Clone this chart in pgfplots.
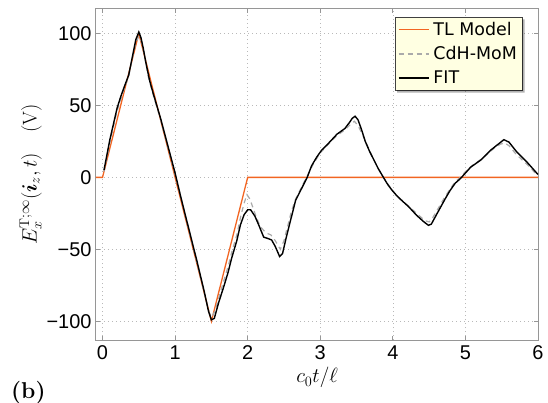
\documentclass[border=0pt]{standalone}
\usepackage{pgfplots}
\pgfplotsset{compat=1.18}
\usepackage{amsmath}
\usepackage{fontspec}
\newfontfamily\tickfont{Liberation Sans}
\newfontfamily\legfont{DejaVu Sans}
\definecolor{tlorange}{RGB}{242,101,34}
\definecolor{momgray}{RGB}{170,170,170}
\definecolor{framegray}{RGB}{150,150,150}
\definecolor{legfill}{RGB}{255,255,226}
\begin{document}
\begin{tikzpicture}
\path[use as bounding box] (-96bp,-63bp) rectangle (452bp,340bp);
\begin{axis}[
  at={(0,0)}, anchor=south west,
  scale only axis, width=442bp, height=331bp,
  xmin=-0.09, xmax=6, ymin=-113, ymax=117,
  xtick={0,1,2,3,4,5,6}, xticklabels={0,1,2,3,4,5,6},
  ytick={-100,-50,0,50,100}, yticklabels={−100,−50,0,50,100},
  tick align=inside, major tick length=4bp,
  tick style={framegray, line width=0.8bp},
  axis line style={framegray, line width=1bp},
  grid=major,
  major grid style={gray!55, line width=0.6bp, dash pattern=on 1bp off 3bp},
  ticklabel style={font=\tickfont\fontsize{20}{22}\selectfont},
  xticklabel style={yshift=-2bp},
  yticklabel style={xshift=-1bp},
  xlabel={$c_0t/\ell$},
  ylabel={$E_x^{\mathrm{T};\infty}(\boldsymbol{i}_z,t)\quad(\mathrm{V})$},
  label style={font=\fontsize{20}{22}\selectfont},
  xlabel style={yshift=-1bp},
  ylabel style={yshift=-2bp},
  legend cell align=left,
  legend style={at={(rel axis cs:1,1)}, anchor=north east, xshift=-16bp, yshift=-8bp,
    name=leg, draw=black!75, fill=legfill,
    font=\legfont\fontsize{17.5}{21}\selectfont,
    inner xsep=3bp, inner ysep=3bp, row sep=5.5bp, column sep=2bp},
  legend image code/.code={\draw[#1, line width=1.7bp] (0bp,0bp) -- (30bp,0bp);},
]
\addplot[color=tlorange, line width=1.3bp] coordinates {(-0.09,0) (0,0) (0.5,100) (1.5,-100) (2,0) (6,0)};
\addlegendentry{TL Model}
\addplot[color=momgray, line width=1.2bp, dash pattern=on 5bp off 4bp] coordinates {
(0.02,4) (0.1,24) (0.2,46) (0.3,62) (0.36,70) (0.42,85) (0.46,94) (0.5,98) (0.54,94) (0.58,84) (0.63,70) (0.7,57) (0.8,40) (0.9,21) (1.0,2) (1.1,-18) (1.2,-39) (1.3,-59) (1.4,-80) (1.47,-94) (1.5,-97) (1.55,-93) (1.6,-84) (1.67,-72) (1.73,-62) (1.78,-52) (1.85,-40) (1.9,-28) (1.95,-18) (1.99,-12) (2.03,-15) (2.1,-25) (2.17,-34) (2.25,-38.5) (2.32,-40) (2.38,-44) (2.45,-50) (2.5,-44) (2.55,-34) (2.6,-24) (2.66,-15) (2.72,-9) (2.78,-3) (2.84,3) (2.9,9) (3.0,17) (3.11,23) (3.23,29) (3.34,33) (3.42,37) (3.47,39) (3.52,36) (3.58,30) (3.65,22) (3.74,12) (3.8,6) (3.87,0) (3.95,-6) (4.05,-12.5) (4.15,-17) (4.25,-21.5) (4.35,-26) (4.44,-30) (4.5,-31) (4.55,-28) (4.62,-22) (4.7,-15) (4.79,-8) (4.86,-3) (4.93,0) (5.0,4) (5.1,8.5) (5.2,12) (5.3,16) (5.4,20.5) (5.48,23) (5.54,24) (5.6,22) (5.7,16) (5.85,9) (6.0,1)};
\addlegendentry{CdH-MoM}
\addplot[color=black, line width=1.4bp] coordinates {
(0.02,5) (0.1,26) (0.2,48) (0.25,56) (0.3,63) (0.36,71) (0.42,86) (0.46,96) (0.5,101) (0.53,97) (0.56,90) (0.6,79) (0.65,67) (0.7,58) (0.8,41) (0.9,22) (1.0,3) (1.08,-14) (1.2,-38) (1.3,-58) (1.4,-79) (1.46,-93) (1.5,-99) (1.54,-98) (1.6,-87) (1.67,-76) (1.73,-66) (1.78,-56) (1.85,-44) (1.9,-33) (1.95,-26) (2.0,-22.5) (2.04,-22.5) (2.1,-27) (2.16,-34) (2.22,-41.5) (2.28,-42.5) (2.33,-43.5) (2.38,-48) (2.44,-55) (2.48,-53) (2.53,-42) (2.58,-32) (2.62,-24) (2.66,-16) (2.72,-10) (2.78,-4) (2.82,0) (2.88,8) (2.95,14) (3.02,19) (3.11,23.5) (3.23,30) (3.34,34) (3.40,38) (3.44,41) (3.48,42.5) (3.52,40) (3.57,33) (3.62,25) (3.68,18) (3.74,12) (3.8,6) (3.87,0) (3.93,-5) (3.99,-9) (4.05,-12.5) (4.1,-15) (4.22,-20.5) (4.33,-26.5) (4.43,-31) (4.49,-33.3) (4.53,-32.5) (4.6,-26) (4.66,-20.5) (4.72,-15) (4.79,-9) (4.86,-4) (4.93,-0.9) (5.0,3) (5.07,7) (5.14,9.5) (5.21,12) (5.28,15.5) (5.35,19) (5.46,23.4) (5.53,26.2) (5.6,24.5) (5.71,17.5) (5.85,10.5) (6.0,2)};
\addlegendentry{FIT}
\end{axis}
\fill[black, opacity=0.3] ([xshift=2.5bp]leg.south west) -- ([xshift=2.5bp,yshift=-2.5bp]leg.south west) -- ([xshift=2.5bp,yshift=-2.5bp]leg.south east) -- ([xshift=2.5bp,yshift=-2.5bp]leg.north east) -- ([yshift=-2.5bp]leg.north east) -- (leg.south east) -- cycle;
\node[anchor=base west, font=\fontsize{23}{25}\selectfont\bfseries, inner sep=0pt] at (-85bp,-58bp) {(b)};
\end{tikzpicture}
\end{document}
